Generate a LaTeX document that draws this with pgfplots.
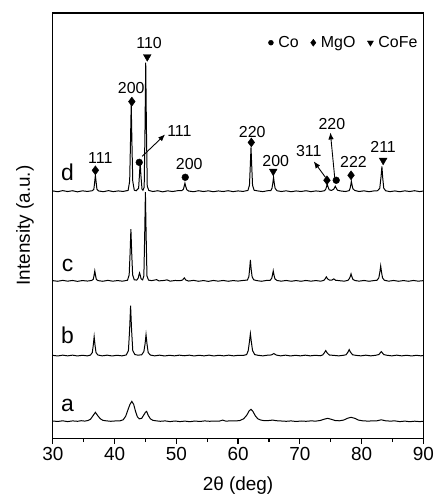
\documentclass[border=0pt]{standalone}
\usepackage{fontspec}
\setmainfont{Liberation Sans}
\usepackage{pgfplots}
\usepackage{pgfplotstable}
\pgfplotsset{compat=1.18}
\usetikzlibrary{arrows.meta}

% heights above each trace's baseline (pixels of the original figure)
\pgfplotstableread{
x y
30.0 0.3
30.8 -0.5
31.6 0.6
32.4 -0.3
33.2 0.5
34.0 -0.6
34.8 0.4
35.6 -0.2
36.4 0.5
36.65 2
36.78 9
36.9 16
37.02 9
37.15 2
37.4 0.3
38.2 -0.5
39.0 0.6
39.8 -0.4
40.6 0.3
41.4 -0.2
42.2 0.8
42.45 10
42.58 48
42.7 88
42.82 48
42.95 10
43.2 1
43.5 0.5
43.9 3
44.03 16
44.15 29
44.27 16
44.45 2
44.6 1
44.8 4
44.93 60
45.05 129
45.17 60
45.3 5
45.55 0.8
46.2 -0.3
47.0 0.5
47.8 -0.6
48.6 0.4
49.4 -0.3
50.2 0.5
50.9 0.6
51.15 2
51.28 5
51.4 8
51.52 5
51.7 1.5
52.0 0.2
52.8 -0.5
53.6 0.5
54.4 -0.3
55.2 0.4
56.0 -0.5
56.8 0.3
57.6 -0.3
58.4 0.5
59.2 -0.4
60.0 0.3
60.8 -0.2
61.6 0.8
61.85 6
61.98 25
62.1 44
62.22 25
62.35 6
62.6 1
63.2 0.3
64.0 -0.4
64.8 0.5
65.3 0.6
65.5 3
65.63 8
65.75 14
65.87 8
66.0 3
66.3 0.5
67.0 -0.3
67.8 0.4
68.6 -0.5
69.4 0.3
70.2 -0.3
71.0 0.5
71.8 -0.4
72.6 0.3
73.4 -0.2
74.0 0.5
74.2 2
74.33 4.5
74.45 7
74.57 4.5
74.75 1.5
75.1 0.8
75.5 2
75.63 3.5
75.75 5
75.87 3.5
76.1 1
76.6 0.3
77.4 -0.3
78.0 0.6
78.15 3
78.25 6
78.35 10
78.47 6
78.6 2.5
78.9 0.8
79.6 -0.3
80.4 0.4
81.2 -0.5
82.0 0.3
82.6 0.5
82.95 3
83.15 14
83.3 25
83.42 14
83.6 3
83.9 0.5
84.6 -0.4
85.4 0.3
86.2 -0.5
87.0 0.4
87.8 -0.3
88.6 0.5
89.4 -0.4
90.0 0.2
}\traced

\pgfplotstableread{
x y
30.0 0.2
30.8 -0.4
31.6 0.5
32.4 -0.3
33.2 0.4
34.0 -0.5
34.8 0.3
35.6 -0.2
36.3 0.4
36.55 1.5
36.68 5.5
36.8 10
36.92 5.5
37.05 1.5
37.3 0.3
38.1 -0.4
38.9 0.5
39.7 -0.3
40.5 0.3
41.3 -0.3
42.1 0.6
42.37 6
42.52 28
42.65 52
42.78 28
42.93 6
43.2 1
43.6 0.8
43.85 3
43.95 6
44.05 8
44.15 6
44.3 2
44.55 1
44.75 5
44.88 45
45.0 89
45.12 45
45.25 5
45.5 0.8
46.0 0.2
46.8 1.2
47.2 0
48.0 0.4
48.5 1
49.0 -0.3
49.8 0.4
50.6 0.2
51.0 0.8
51.3 3
51.55 0.8
52.0 -0.2
52.8 0.5
53.6 -0.4
54.4 0.3
55.2 -0.5
56.0 0.4
56.8 -0.3
57.6 0.4
58.4 -0.4
59.2 0.3
60.0 -0.2
60.8 0.4
61.5 0.8
61.75 4
61.88 12
62.0 21
62.12 12
62.28 4
62.55 1
63.0 0.3
63.8 -0.4
64.6 0.4
65.2 0.6
65.45 2.5
65.58 6
65.7 10
65.82 6
65.97 2
66.3 0.4
67.0 -0.3
67.8 0.4
68.6 -0.4
69.4 0.3
70.2 -0.4
71.0 0.4
71.8 -0.3
72.6 0.3
73.4 -0.3
73.9 0.5
74.1 2
74.3 4
74.5 2
74.8 0.8
75.2 0.8
75.5 2
75.8 0.6
76.4 0.2
77.2 -0.3
77.8 0.5
78.05 2.5
78.18 4.5
78.3 7
78.42 4.5
78.6 1.5
78.9 0.4
79.6 -0.3
80.4 0.4
81.2 -0.4
82.0 0.3
82.5 0.6
82.8 3
82.97 9
83.1 15
83.23 9
83.4 3
83.7 0.6
84.4 -0.3
85.2 0.4
86.0 -0.4
86.8 0.3
87.6 -0.4
88.4 0.4
89.2 -0.3
90.0 0.2
}\tracec

\pgfplotstableread{
x y
30.0 0.2
30.8 -0.4
31.6 0.4
32.4 -0.3
33.2 0.4
34.0 -0.4
34.8 0.3
35.6 -0.3
36.1 0.5
36.4 3
36.57 11
36.7 19
36.83 11
37.0 3
37.3 0.6
38.0 -0.3
38.8 0.4
39.6 -0.4
40.4 0.3
41.2 -0.3
41.9 0.6
42.25 5
42.45 27
42.6 50
42.75 27
42.95 5
43.3 1
43.8 0.4
44.4 0.8
44.75 4
44.95 12
45.1 21
45.25 12
45.45 3
45.8 0.5
46.5 -0.3
47.3 0.4
48.1 -0.4
48.9 0.3
49.7 -0.3
50.5 0.4
51.3 -0.2
52.1 0.4
52.9 -0.4
53.7 0.3
54.5 -0.3
55.3 0.4
56.1 -0.4
56.9 0.3
57.7 -0.3
58.5 0.4
59.3 -0.3
60.1 0.3
60.9 0.2
61.4 1
61.65 5
61.85 14
62.0 22
62.15 14
62.35 5
62.7 1
63.2 0.3
64.0 -0.3
64.8 0.4
65.4 0.6
65.8 2
66.2 0.5
66.9 -0.3
67.7 0.4
68.5 -0.4
69.3 0.3
70.1 -0.3
70.9 0.4
71.7 -0.3
72.5 0.3
73.3 -0.2
73.7 0.6
73.95 2.5
74.2 5
74.45 2.5
74.8 0.5
75.5 0.2
76.3 -0.3
77.1 0.3
77.5 0.8
77.8 3.5
78.0 6
78.2 3.5
78.55 0.8
79.1 0.2
79.9 -0.3
80.7 0.4
81.5 -0.3
82.3 0.3
82.8 1
83.2 4
83.6 1
84.1 0.3
84.9 -0.3
85.7 0.4
86.5 -0.3
87.3 0.3
88.1 -0.4
88.9 0.3
89.6 -0.3
90.0 0.1
}\traceb

\pgfplotstableread{
x y
30.0 0.3
30.8 -0.2
31.6 0.5
32.4 -0.3
33.2 0.4
34.0 0.0
34.6 0.6
35.2 0.2
35.7 0.8
36.1 2
36.5 5.5
36.9 9
37.3 5.5
37.7 2.5
38.1 1
38.6 0.5
39.4 0.0
40.2 0.4
40.9 0.5
41.4 1.5
41.8 5
42.2 12
42.5 17
42.8 20
43.1 17
43.4 10
43.7 4.5
44.0 2.5
44.4 3
44.7 6
45.0 9
45.2 10
45.45 6
45.8 2.5
46.2 1
46.7 0.5
47.4 0.0
48.2 0.4
49.0 -0.3
49.8 0.3
50.6 -0.3
51.4 0.2
52.2 -0.4
53.0 0.3
53.8 -0.2
54.6 0.4
55.4 0.0
56.2 0.3
57.0 0.2
57.5 1.2
58.0 0.2
58.8 0.4
59.6 0.3
60.3 0.8
60.9 2.5
61.4 6
61.8 10.5
62.1 12
62.4 10
62.8 5.5
63.2 2.5
63.7 1.2
64.3 0.6
65.0 0.8
65.6 1.2
66.2 0.6
67.0 0.3
67.8 0.0
68.6 0.4
69.4 -0.2
70.2 0.3
71.0 0.0
71.8 0.4
72.6 0.2
73.3 0.8
73.9 2
74.5 3
75.1 2
75.7 0.8
76.4 0.5
77.1 1.2
77.7 3
78.3 4
78.9 3
79.5 1.2
80.2 0.5
81.0 0.2
81.8 0.4
82.5 0.5
83.2 1.5
83.9 0.5
84.6 0.2
85.4 0.4
86.2 -0.3
87.0 0.2
87.8 -0.4
88.6 0.1
89.4 -0.3
90.0 0.0
}\tracea

\begin{document}
\begin{tikzpicture}
\begin{axis}[
scale only axis,
width=372pt, height=427pt,
xmin=30, xmax=90,
ymin=0, ymax=427,
xtick={30,40,...,90},
minor x tick num=1,
xtick pos=left,
tick align=outside,
major tick length=6pt,
minor tick length=4pt,
ytick=\empty,
axis line style={line width=1.2pt},
every tick/.style={line width=1.2pt, black},
/pgf/number format/assume math mode=true,
tick label style={font=\fontsize{19}{21}\selectfont},
xlabel={2θ (deg)},
ylabel={Intensity (a.u.)},
label style={font=\fontsize{19}{21}\selectfont},
xlabel style={at={(axis description cs:0.5,-0.112)}, anchor=center},
ylabel style={at={(axis description cs:-0.075,0.5)}, anchor=center},
clip=false,
legend columns=3,
legend style={draw=none, fill=none, font=\fontsize{16}{18}\selectfont,
  at={(rel axis cs:0.99,0.93)}, anchor=east, inner sep=0pt,
  /tikz/every odd column/.append style={column sep=3pt},
  /tikz/every even column/.append style={column sep=10pt}},
legend image code/.code={\draw[#1] plot coordinates {(0.1cm,0cm)};},
]
\addplot[black, line width=1pt, forget plot] table[x=x, y expr=\thisrow{y}+248] {\traced};
\addplot[black, line width=1pt, forget plot] table[x=x, y expr=\thisrow{y}+158] {\tracec};
\addplot[black, line width=1pt, forget plot] table[x=x, y expr=\thisrow{y}+83] {\traceb};
\addplot[black, line width=1pt, forget plot] table[x=x, y expr=\thisrow{y}+17] {\tracea};

% phase markers
\addplot[only marks, mark=*, mark size=3.4pt, black, forget plot] coordinates {(44.0,277) (51.45,262) (75.9,259)};
\addplot[only marks, mark=diamond*, mark size=4.5pt, black, forget plot] coordinates {(36.9,269) (42.8,338) (62.15,297) (74.4,259) (78.3,264)};
\addplot[only marks, mark=triangle*, mark size=4.5pt, mark options={rotate=180}, black, forget plot] coordinates {(45.3,383) (65.7,268) (83.5,279)};

\addlegendimage{only marks, mark=*, mark size=2.5pt, black}
\addlegendentry{Co}
\addlegendimage{only marks, mark=diamond*, mark size=3.5pt, black}
\addlegendentry{MgO}
\addlegendimage{only marks, mark=triangle*, mark size=3.5pt, mark options={rotate=180}, black}
\addlegendentry{CoFe}

\begin{scope}[font=\fontsize{16}{18}\selectfont]
\node at (axis cs:37.7,281) {111};
\node at (axis cs:42.7,352) {200};
\node at (axis cs:45.6,397) {110};
\node at (axis cs:50.5,308) {111};
\node at (axis cs:52.1,275) {200};
\node at (axis cs:62.3,307) {220};
\node at (axis cs:66.1,278) {200};
\node at (axis cs:71.45,288) {311};
\node at (axis cs:75.2,315) {220};
\node at (axis cs:78.7,277) {222};
\node at (axis cs:83.5,292) {211};
\end{scope}

\draw[line width=0.9pt, -{Latex[length=7pt,width=5.5pt]}] (axis cs:44.47,283) -- (axis cs:48.2,305);
\draw[line width=0.9pt, -{Latex[length=7pt,width=5.5pt]}] (axis cs:74.15,262) -- (axis cs:72.26,278);
\draw[line width=0.9pt, -{Latex[length=7pt,width=5.5pt]}] (axis cs:75.65,262) -- (axis cs:74.95,307);

\begin{scope}[font=\fontsize{23}{25}\selectfont]
\node at (axis cs:32.4,267) {d};
\node at (axis cs:32.4,173) {c};
\node at (axis cs:32.4,103) {b};
\node at (axis cs:32.4,33) {a};
\end{scope}
\end{axis}
\path ([xshift=-53pt,yshift=13pt]current axis.north west) ([xshift=10pt,yshift=-58pt]current axis.south east);
\end{tikzpicture}
\end{document}
